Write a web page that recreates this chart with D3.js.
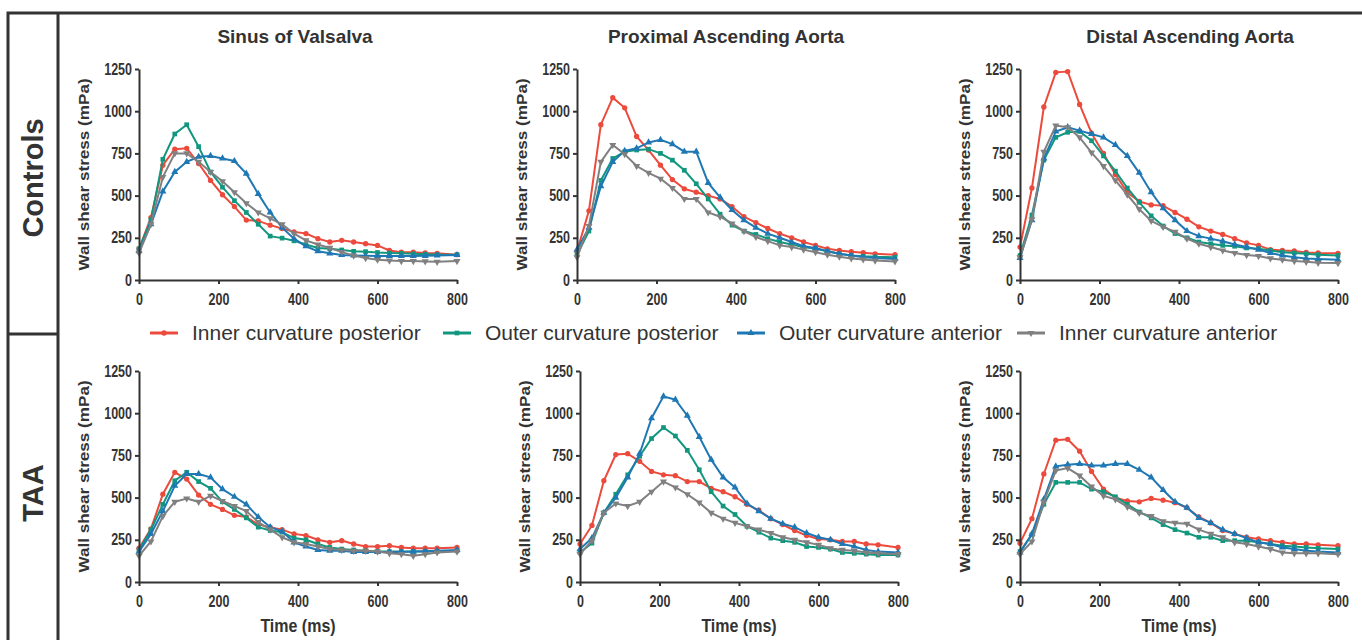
<!DOCTYPE html>
<html>
<head>
<meta charset="utf-8">
<script src="https://cdn.jsdelivr.net/npm/d3@7"></script>
<style>
  body { margin: 0; background: #fff; }
  svg { display: block; font-family: "Liberation Sans", Arial, sans-serif; }
</style>
</head>
<body>
<div id="chart"></div>
<script>
// time points of the cardiac cycle (ms)
const times = [0, 30, 60, 90, 120, 150, 180, 210, 240, 270, 300, 330, 360, 390, 420, 450, 480, 510, 540, 570, 600, 630, 660, 690, 720, 750, 800];

const seriesNames = ["Inner curvature posterior", "Outer curvature posterior", "Outer curvature anterior", "Inner curvature anterior"];
const seriesColors = ["#ec4a3c", "#12977f", "#1f78b4", "#808080"];
const seriesShapes = ["circle", "square", "triangle", "triangleDown"];
const regionTitles = ["Sinus of Valsalva", "Proximal Ascending Aorta", "Distal Ascending Aorta"];
const groupLabels = ["Controls", "TAA"];
const yTicks = [0, 250, 500, 750, 1000, 1250];
const xTicks = [0, 200, 400, 600, 800];

// wall shear stress (mPa), order of series as in seriesNames
const controlsSinus = [
  [185, 370, 680, 775, 780, 690, 590, 505, 435, 355, 350, 325, 305, 285, 275, 245, 225, 235, 225, 215, 205, 175, 165, 165, 160, 158, 150],
  [185, 355, 715, 865, 920, 790, 640, 550, 470, 400, 330, 260, 248, 232, 210, 190, 185, 178, 170, 168, 163, 160, 158, 155, 153, 150, 150],
  [170, 330, 525, 640, 700, 730, 735, 720, 705, 630, 510, 400, 310, 245, 200, 170, 158, 148, 145, 143, 142, 142, 142, 142, 143, 145, 148],
  [160, 330, 610, 750, 750, 700, 640, 585, 520, 455, 400, 365, 330, 275, 235, 210, 190, 165, 145, 130, 120, 115, 112, 112, 110, 108, 112]
];
const controlsProximal = [
  [170, 410, 920, 1080, 1020, 850, 770, 680, 595, 540, 520, 500, 480, 435, 375, 340, 305, 275, 250, 225, 205, 185, 175, 168, 162, 155, 150],
  [150, 290, 590, 720, 760, 770, 775, 750, 710, 650, 570, 480, 390, 325, 290, 270, 245, 225, 210, 195, 185, 170, 155, 145, 140, 137, 135],
  [180, 310, 555, 700, 765, 780, 815, 830, 805, 760, 760, 575, 490, 415, 355, 310, 275, 250, 225, 200, 190, 170, 155, 145, 135, 130, 125],
  [135, 320, 700, 800, 745, 675, 635, 600, 545, 480, 480, 400, 375, 335, 290, 255, 230, 205, 195, 180, 165, 150, 138, 128, 122, 115, 110]
];
const controlsDistal = [
  [195, 545, 1025, 1230, 1235, 1040, 870, 750, 625, 520, 465, 445, 440, 400, 360, 315, 290, 270, 245, 220, 205, 180, 175, 172, 163, 160, 158],
  [145, 385, 710, 845, 875, 880, 825, 735, 645, 545, 460, 380, 320, 275, 250, 225, 215, 205, 200, 190, 185, 175, 165, 160, 155, 150, 145],
  [130, 355, 720, 880, 905, 885, 865, 845, 800, 735, 635, 520, 425, 355, 290, 260, 245, 230, 210, 195, 180, 160, 145, 135, 128, 125, 120],
  [135, 360, 760, 915, 905, 845, 755, 675, 590, 505, 420, 350, 315, 285, 245, 215, 195, 175, 160, 148, 142, 128, 120, 112, 108, 102, 100]
];
const taaSinus = [
  [200, 315, 520, 650, 610, 515, 460, 430, 395, 385, 340, 325, 310, 285, 275, 250, 235, 245, 225, 210, 210, 215, 205, 200, 200, 200, 205],
  [190, 310, 460, 600, 650, 595, 555, 475, 430, 380, 325, 305, 295, 260, 250, 225, 205, 195, 190, 185, 180, 180, 180, 180, 180, 180, 185],
  [180, 285, 420, 570, 640, 640, 620, 550, 505, 460, 385, 325, 300, 235, 210, 190, 185, 185, 178, 178, 178, 178, 178, 180, 182, 185, 190],
  [155, 240, 390, 475, 495, 475, 510, 480, 450, 420, 355, 310, 265, 235, 225, 210, 195, 190, 185, 185, 180, 170, 165, 155, 165, 175, 180]
];
const taaProximal = [
  [225, 335, 600, 755, 760, 715, 655, 635, 630, 595, 595, 555, 535, 505, 460, 425, 375, 340, 305, 275, 255, 250, 240, 240, 225, 220, 205],
  [175, 230, 410, 520, 635, 745, 850, 915, 865, 780, 665, 535, 450, 400, 330, 295, 260, 245, 235, 210, 205, 195, 175, 170, 165, 160, 160],
  [195, 260, 410, 500, 620, 760, 970, 1100, 1080, 985, 860, 725, 620, 560, 465, 420, 375, 345, 325, 290, 265, 250, 225, 210, 190, 180, 175],
  [165, 245, 410, 465, 450, 475, 535, 595, 560, 520, 470, 410, 375, 350, 330, 310, 290, 265, 250, 235, 220, 200, 190, 185, 175, 170, 165]
];
const taaDistal = [
  [230, 375, 640, 840, 845, 775, 655, 550, 500, 480, 475, 495, 485, 470, 440, 385, 350, 305, 285, 265, 255, 245, 235, 225, 225, 220, 215],
  [180, 280, 460, 590, 590, 590, 550, 535, 505, 460, 415, 380, 340, 310, 290, 265, 265, 245, 245, 245, 235, 225, 215, 210, 205, 200, 195],
  [175, 285, 490, 685, 695, 700, 690, 690, 700, 700, 665, 620, 545, 475, 440, 380, 350, 310, 285, 260, 235, 225, 205, 195, 185, 180, 175],
  [165, 240, 475, 660, 675, 630, 565, 510, 490, 445, 410, 390, 360, 350, 345, 310, 285, 265, 235, 225, 210, 195, 175, 170, 170, 170, 165]
];

const panels = [
  [controlsSinus, controlsProximal, controlsDistal],
  [taaSinus, taaProximal, taaDistal]
];

// layout
const svgWidth = 1362, svgHeight = 640;
const ink = "#333";
const colLeft = [[139, 577, 1020], [139, 580, 1020]];
const rowTop = [69, 371];
const plotW = 318, plotH = 211;
const titleX = [295, 726, 1190];

const svg = d3.select("#chart").append("svg")
  .attr("width", svgWidth)
  .attr("height", svgHeight);

// frame on the left / top
const frame = svg.append("g").attr("stroke", ink).attr("stroke-width", 3).attr("fill", "none");
frame.append("path").attr("d", `M8,${svgHeight} V13 H${svgWidth}`);
frame.append("line").attr("x1", 58).attr("x2", 58).attr("y1", 13).attr("y2", svgHeight);
frame.append("line").attr("x1", 8).attr("x2", 58).attr("y1", 334).attr("y2", 334);

// row labels
[[178, groupLabels[0]], [493, groupLabels[1]]].forEach(([cy, label]) => {
  svg.append("text")
    .attr("transform", `translate(43,${cy}) rotate(-90)`)
    .attr("text-anchor", "middle")
    .style("font-size", "29px")
    .style("font-weight", "bold")
    .style("fill", ink)
    .text(label);
});

// column titles
regionTitles.forEach((t, c) => {
  svg.append("text")
    .attr("x", titleX[c])
    .attr("y", 43)
    .attr("text-anchor", "middle")
    .style("font-size", "19px")
    .style("font-weight", "bold")
    .style("fill", ink)
    .text(t);
});

function marker(shape) {
  if (shape === "circle") return d3.symbol(d3.symbolCircle, 22)();
  if (shape === "square") return d3.symbol(d3.symbolSquare, 22)();
  return d3.symbol(d3.symbolTriangle, 22)();
}

function styleAxis(g) {
  g.select(".domain").attr("stroke", ink).attr("stroke-width", 2);
  g.selectAll(".tick line").attr("stroke", ink).attr("stroke-width", 2);
  g.selectAll(".tick text")
    .style("font-size", "12.5px")
    .style("font-weight", "bold")
    .style("fill", ink)
    .attr("transform", "scale(1,1.25)");
}

panels.forEach((row, r) => {
  row.forEach((data, c) => {
    const x0 = colLeft[r][c];
    const top = rowTop[r];
    const xScale = d3.scaleLinear().domain([0, 800]).range([x0, x0 + plotW]);
    const yScale = d3.scaleLinear().domain([0, 1250]).range([top + plotH, top]);

    // series
    data.forEach((values, s) => {
      const line = d3.line()
        .x((d, i) => xScale(times[i]))
        .y(d => yScale(d));
      svg.append("path")
        .datum(values)
        .attr("fill", "none")
        .attr("stroke", seriesColors[s])
        .attr("stroke-width", 2)
        .attr("d", line);
      svg.append("g").selectAll("path")
        .data(values)
        .enter()
        .append("path")
        .attr("d", marker(seriesShapes[s]))
        .attr("transform", (d, i) => `translate(${xScale(times[i])},${yScale(d)})` + (seriesShapes[s] === "triangleDown" ? " rotate(180)" : ""))
        .attr("fill", seriesColors[s]);
    });

    // axes
    svg.append("g")
      .attr("transform", `translate(0,${top + plotH})`)
      .call(d3.axisBottom(xScale).tickValues(xTicks).tickFormat(d3.format("d")).tickSize(4).tickSizeOuter(0).tickPadding(7))
      .call(styleAxis);
    svg.append("g")
      .attr("transform", `translate(${x0},0)`)
      .call(d3.axisLeft(yScale).tickValues(yTicks).tickFormat(d3.format("d")).tickSize(4).tickSizeOuter(0).tickPadding(3))
      .call(styleAxis);

    // y label
    svg.append("text")
      .attr("transform", `translate(${x0 - 50},${top + plotH / 2}) rotate(-90) scale(1.18,1)`)
      .attr("text-anchor", "middle")
      .style("font-size", "14.5px")
      .style("font-weight", "bold")
      .style("fill", ink)
      .text("Wall shear stress (mPa)");

    // x label on the bottom row
    if (r === 1) {
      svg.append("text")
        .attr("transform", `translate(${x0 + plotW / 2},${top + plotH + 50}) scale(1,1.2)`)
        .attr("text-anchor", "middle")
        .style("font-size", "16px")
        .style("font-weight", "bold")
        .style("fill", ink)
        .text("Time (ms)");
    }
  });
});

// legend between the rows
const legendX = [150, 443, 737, 1017];
const legend = svg.append("g").attr("transform", "translate(0,333)");
seriesNames.forEach((name, s) => {
  const lx = legendX[s];
  legend.append("line")
    .attr("x1", lx).attr("x2", lx + 28)
    .attr("y1", 0).attr("y2", 0)
    .attr("stroke", seriesColors[s])
    .attr("stroke-width", 3);
  legend.append("path")
    .attr("d", marker(seriesShapes[s]))
    .attr("transform", `translate(${lx + 14},0)` + (seriesShapes[s] === "triangleDown" ? " rotate(180)" : ""))
    .attr("fill", seriesColors[s]);
  legend.append("text")
    .attr("x", lx + 42)
    .attr("y", 7)
    .style("font-size", "21px")
    .style("fill", ink)
    .text(name);
});
</script>
</body>
</html>
